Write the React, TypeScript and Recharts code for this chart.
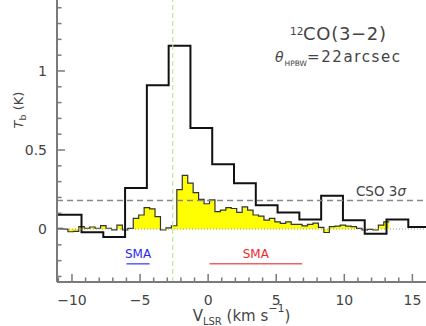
import React from "react";
import { ComposedChart, Line, Area, XAxis, YAxis, ReferenceLine } from "recharts";

// CSO 12CO(3-2) spectrum, 1.6 km/s channels (left edges, last entry = right end)
const csoEdges = [-11.1, -9.3, -7.7, -6.1, -4.5, -2.9, -1.3, 0.3, 1.9, 3.5, 5.1, 6.7, 8.3, 9.9, 11.5, 13.1, 14.7, 16.0];
const csoTb = [0.09, -0.02, -0.05, 0.26, 0.91, 1.16, 0.64, 0.41, 0.29, 0.15, 0.105, 0.06, 0.21, 0.055, -0.03, 0.06, 0.013];

// SMA spectrum, 0.4 km/s channels (left edges, last entry = right end)
const smaEdges = [
  -11.1, -10.7, -10.3, -9.9, -9.5, -9.1, -8.7, -8.3, -7.9, -7.5, -7.1, -6.7, -6.3, -5.9, -5.5, -5.1,
  -4.7, -4.3, -3.9, -3.5, -3.1, -2.7, -2.3, -1.9, -1.5, -1.1, -0.7, -0.3, 0.1, 0.5, 0.9, 1.3,
  1.7, 2.1, 2.5, 2.9, 3.3, 3.7, 4.1, 4.5, 4.9, 5.3, 5.7, 6.1, 6.5, 6.9, 7.3, 7.7,
  8.1, 8.5, 8.9, 9.3, 9.7, 10.1, 10.5, 10.9, 11.3, 11.7, 12.1, 12.5, 12.9, 13.3,
];
const smaTb = [
  0.004, 0.0, -0.017, -0.015, 0.015, 0.005, 0.013, 0.005, 0.022, 0.005, -0.005, 0.025, -0.006, 0.004, 0.068, 0.089,
  0.135, 0.127, 0.078, -0.006, 0.008, 0.021, 0.25, 0.34, 0.29, 0.23, 0.188, 0.16, 0.185, 0.11, 0.12, 0.135,
  0.13, 0.106, 0.14, 0.12, 0.089, 0.082, 0.057, 0.068, 0.046, 0.036, 0.046, 0.03, 0.03, 0.02, 0.03, 0.038,
  0.01, -0.022, 0.015, 0.019, 0.025, 0.019, 0.015, 0.004, -0.006, -0.002, -0.006, 0.025, 0.046,
];

const xTicks = [-11, -10, -9, -8, -7, -6, -5, -4, -3, -2, -1, 0, 1, 2, 3, 4, 5, 6, 7, 8, 9, 10, 11, 12, 13, 14, 15];
const xMajor = [-10, -5, 0, 5, 10, 15];
const xLabels = ["−10", "−5", "0", "5", "10", "15"];
const yTicks = [-0.3, -0.2, -0.1, 0, 0.1, 0.2, 0.3, 0.4, 0.5, 0.6, 0.7, 0.8, 0.9, 1, 1.1, 1.2, 1.3, 1.4];
const yMajor = [0, 0.5, 1];
const yLabels = ["0", "0.5", "1"];

const cso3sigma = 0.18;
const systemicV = -2.6;
const smaBlueRange = [-6.0, -4.3];
const smaRedRange = [0.1, 6.9];
const smaBarTb = -0.22;

const font = "'DejaVu Sans', sans-serif";
const AXIS = "#7a7a7a";
const INK = "#444";

function stepData(edges: number[], vals: number[]) {
  return edges.map((v, i) => ({ v, tb: vals[Math.min(i, vals.length - 1)] }));
}
const csoData = stepData(csoEdges, csoTb);
const smaData = stepData(smaEdges, smaTb);

function BottomTick({ x, y, payload }: any) {
  const i = xMajor.indexOf(payload.value);
  return (
    <g>
      <line x1={x} y1={y} x2={x} y2={y - (i >= 0 ? 8 : 4.5)} stroke={AXIS} strokeWidth={1.5} />
      {i >= 0 && (
        <text x={x} y={y + 23} textAnchor="middle" fontSize={14} fontFamily={font} fill={INK}>
          {xLabels[i]}
        </text>
      )}
    </g>
  );
}

function TopTick({ x, y, payload }: any) {
  const major = xMajor.includes(payload.value);
  return <line x1={x} y1={y} x2={x} y2={y + (major ? 8 : 5.5)} stroke={AXIS} strokeWidth={1.5} />;
}

function LeftTick({ x, y, payload }: any) {
  const i = yMajor.indexOf(payload.value);
  return (
    <g>
      <line x1={x} y1={y} x2={x + (i >= 0 ? 8 : 4.5)} y2={y} stroke={AXIS} strokeWidth={1.5} />
      {i >= 0 && (
        <text x={x - 10} y={y + 5} textAnchor="end" fontSize={14} fontFamily={font} fill={INK}>
          {yLabels[i]}
        </text>
      )}
    </g>
  );
}

function XTitle({ viewBox }: any) {
  const cx = viewBox.x + viewBox.width / 2;
  return (
    <text x={cx} y={viewBox.y + 39} textAnchor="middle" fontSize={15} fontFamily={font} fill={INK}>
      V<tspan fontSize={10} dy={3.5}>LSR</tspan>
      <tspan dy={-3.5}> (km s</tspan>
      <tspan fontSize={11} dy={-9}>−1</tspan>
      <tspan dy={9}>)</tspan>
    </text>
  );
}

function YTitle() {
  return (
    <text x={23} y={110} transform="rotate(-90, 23, 110)" textAnchor="middle" fontSize={13} fontFamily={font} fill={INK}>
      <tspan fontStyle="italic">T</tspan>
      <tspan fontSize={9.5} dy={3}>b</tspan>
      <tspan dy={-3}> (K)</tspan>
    </text>
  );
}

function SigmaLabel({ viewBox }: any) {
  return (
    <text x={viewBox.x + viewBox.width - 20} y={viewBox.y - 5} textAnchor="end" fontSize={13.5} fontFamily={font} fill={INK}>
      CSO 3<tspan fontStyle="italic">σ</tspan>
    </text>
  );
}

export default function App() {
  return (
    <div style={{ position: "absolute", left: 0, top: 0, width: 426, height: 326, background: "#fff" }}>
      <ComposedChart width={426} height={326} margin={{ top: 0, right: 0, bottom: 0, left: 0 }}>
        <XAxis
          xAxisId="b"
          type="number"
          dataKey="v"
          domain={[-11.1, 16]}
          allowDataOverflow
          ticks={xTicks}
          interval={0}
          tick={<BottomTick />}
          tickLine={false}
          tickSize={0}
          tickMargin={0}
          height={44}
          axisLine={{ stroke: AXIS, strokeWidth: 2 }}
          label={{ content: (p: any) => <XTitle {...p} /> }}
        />
        <XAxis
          xAxisId="t"
          orientation="top"
          type="number"
          dataKey="v"
          domain={[-11.1, 16]}
          allowDataOverflow
          ticks={xTicks}
          interval={0}
          tick={<TopTick />}
          tickLine={false}
          tickSize={0}
          tickMargin={0}
          height={0}
          axisLine={{ stroke: AXIS, strokeWidth: 2 }}
        />
        <YAxis
          type="number"
          domain={[-0.335, 1.449]}
          allowDataOverflow
          ticks={yTicks}
          interval={0}
          tick={<LeftTick />}
          tickLine={false}
          tickSize={0}
          tickMargin={0}
          width={57}
          axisLine={{ stroke: AXIS, strokeWidth: 2 }}
          label={{ content: () => <YTitle /> }}
        />
        <Area
          xAxisId="b"
          data={smaData}
          dataKey="tb"
          type="stepAfter"
          fill="#ffff00"
          fillOpacity={1}
          stroke="#333"
          strokeWidth={1.2}
          dot={false}
          activeDot={false}
          isAnimationActive={false}
        />
        <Line
          xAxisId="b"
          data={csoData}
          dataKey="tb"
          type="stepAfter"
          stroke="#111"
          strokeWidth={2}
          dot={false}
          activeDot={false}
          isAnimationActive={false}
        />
        <ReferenceLine xAxisId="b" y={0} stroke="#999" strokeDasharray="1 2" />
        <ReferenceLine
          xAxisId="b"
          y={cso3sigma}
          stroke="#888"
          strokeWidth={1.5}
          strokeDasharray="6 4"
          label={{ content: (p: any) => <SigmaLabel {...p} /> }}
        />
        <ReferenceLine xAxisId="b" x={systemicV} stroke="#b4ee9a" strokeWidth={1.2} strokeDasharray="5 3" />
        <ReferenceLine
          xAxisId="b"
          segment={[{ x: smaBlueRange[0], y: smaBarTb }, { x: smaBlueRange[1], y: smaBarTb }]}
          stroke="#5a5aff"
          strokeWidth={1.5}
          label={{ value: "SMA", position: "top", offset: 6, fill: "#2a2aee", fontSize: 12, fontFamily: font }}
        />
        <ReferenceLine
          xAxisId="b"
          segment={[{ x: smaRedRange[0], y: smaBarTb }, { x: smaRedRange[1], y: smaBarTb }]}
          stroke="#f06060"
          strokeWidth={1.5}
          label={{ value: "SMA", position: "top", offset: 6, fill: "#ee2a2a", fontSize: 12, fontFamily: font }}
        />
      </ComposedChart>
      <svg width={426} height={326} style={{ position: "absolute", left: 0, top: 0, pointerEvents: "none" }}>
        <g fontFamily={font} fill={INK}>
          <text x={290} y={34.5} fontSize={10.5}>12</text>
          <text x={303} y={40} fontSize={18} textLength={83}>CO(3−2)</text>
          <text x={275} y={62} fontSize={14} fontStyle="italic">θ</text>
          <text x={284.5} y={65.5} fontSize={7.5}>HPBW</text>
          <text x={307} y={62} fontSize={15} textLength={93}>=22arcsec</text>
        </g>
      </svg>
    </div>
  );
}
